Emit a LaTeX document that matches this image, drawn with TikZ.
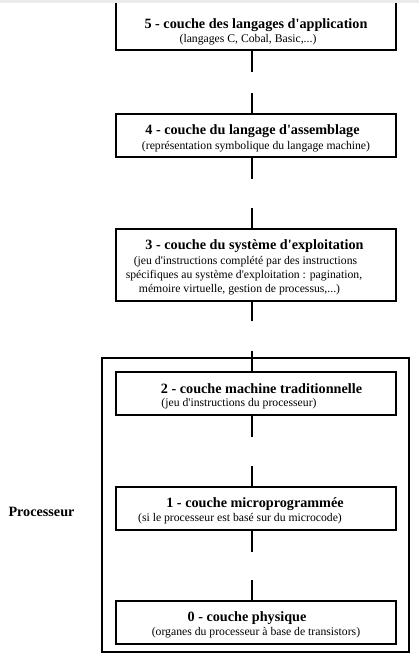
\documentclass[tikz,border=0pt]{standalone}
\usepackage{fontspec}
\newfontfamily\tnr{Liberation Serif}
\definecolor{strip}{RGB}{235,235,235}
\begin{document}
\begin{tikzpicture}[x=1pt,y=-1pt,
  layer/.style={draw, line width=1.2pt, minimum width=280pt, inner sep=0pt},
  ttl/.style={font=\tnr\bfseries\fontsize{14.2}{17}\selectfont, inner sep=0pt},
  sub/.style={font=\tnr\fontsize{11.7}{14}\selectfont, inner sep=0pt},
  link/.style={line width=1.2pt}]
\useasboundingbox (0,0) rectangle (419,654);
% processor frame
\node[layer, minimum width=307pt, minimum height=294pt] (cpu) at (255.5,505) {};
% layers
\begin{scope}
\clip (0,0) rectangle (419,654);
\node[layer, minimum height=60pt] (b5) at (256,20) {};
\end{scope}
\fill[strip] (0,0) rectangle (419,3);
\node[layer, minimum height=43pt] (b4) at (256,135.5) {};
\node[layer, minimum height=72pt] (b3) at (256,265) {};
\node[layer, minimum height=43pt] (b2) at (256,393.5) {};
\node[layer, minimum height=43pt] (b1) at (256,508.5) {};
\node[layer, minimum height=43pt] (b0) at (256,622.5) {};
% connectors
\coordinate (k5a) at (252,72);  \coordinate (k5b) at (252,93);
\coordinate (k4a) at (252,179); \coordinate (k4b) at (252,208);
\coordinate (k3a) at (252,321); \coordinate (k3b) at (252,351);
\coordinate (k2a) at (252,437); \coordinate (k2b) at (252,466);
\coordinate (k1a) at (252,552); \coordinate (k1b) at (252,580);
\draw[link] (b5.south -| k5a) -- (k5a); \draw[link] (k5b) -- (b4.north -| k5b);
\draw[link] (b4.south -| k4a) -- (k4a); \draw[link] (k4b) -- (b3.north -| k4b);
\draw[link] (b3.south -| k3a) -- (k3a); \draw[link] (k3b) -- (b2.north -| k3b);
\draw[link] (b2.south -| k2a) -- (k2a); \draw[link] (k2b) -- (b1.north -| k2b);
\draw[link] (b1.south -| k1a) -- (k1a); \draw[link] (k1b) -- (b0.north -| k1b);
% texts
\node[ttl] (t5) at (256,25) {5 - couche des langages d'application};
\node[sub] (s5) at (248,40) {(langages C, Cobal, Basic,...)};
\node[ttl] (t4) at (252.5,131) {4 - couche du langage d'assemblage};
\node[sub] (s4) at (256,147) {(représentation symbolique du langage machine)};
\node[ttl] (t3) at (254.5,246) {3 - couche du système d'exploitation};
\node[sub] (s3a) at (245.5,262) {(jeu d'instructions complété par des instructions};
\node[sub] (s3b) at (244,276) {spécifiques au système d'exploitation : pagination,};
\node[sub] (s3c) at (239.5,290) {mémoire virtuelle, gestion de processus,...)};
\node[ttl] (t2) at (261.5,389) {2 - couche machine traditionnelle};
\node[sub] (s2) at (239,404) {(jeu d'instructions du processeur)};
\node[ttl] (t1) at (255,504) {1 - couche microprogrammée};
\node[sub] (s1) at (240,519) {(si le processeur est basé sur du microcode)};
\node[ttl] (t0) at (247,618) {0 - couche physique};
\node[sub] (s0) at (256,633) {(organes du processeur à base de transistors)};
\node[ttl] (proc) at (41.5,512) {Processeur};
\end{tikzpicture}
\end{document}
